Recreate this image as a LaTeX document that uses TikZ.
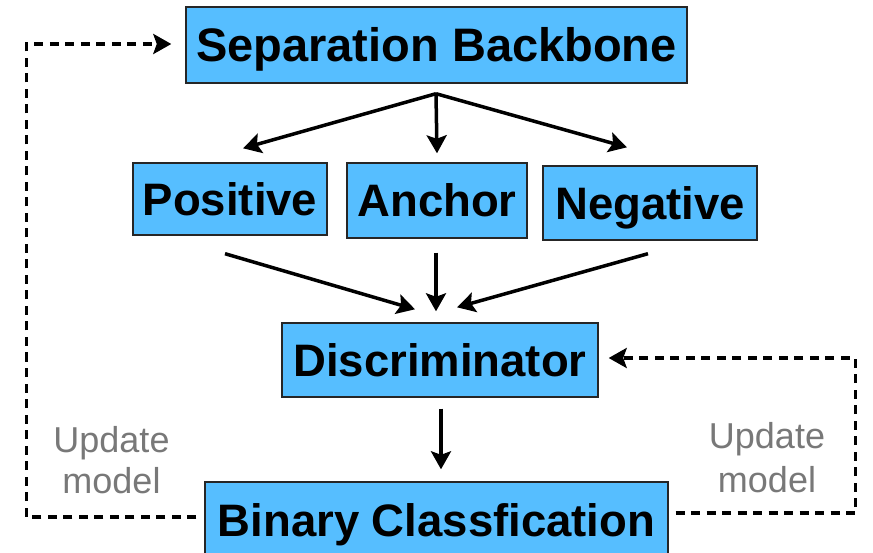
\documentclass[tikz,border=0pt]{standalone}
\usepackage{fontspec}
\setmainfont{Liberation Sans}
\usetikzlibrary{arrows.meta}
\definecolor{boxblue}{RGB}{86,190,255}
\definecolor{lblgray}{RGB}{120,120,120}
\begin{document}
\begin{tikzpicture}[x=1pt,y=-1pt,
  box/.style={draw=black!85, line width=1.4pt, fill=boxblue, inner sep=0pt,
    text height=33pt, text depth=0pt,
    font=\fontsize{45.5}{50}\selectfont\bfseries},
  tip/.style={-{Stealth[length=18pt,width=20pt,inset=3.5pt]}},
  arr/.style={tip, line width=3.5pt},
  dsh/.style={tip, line width=3.5pt, dash pattern=on 9pt off 6.5pt},
  lbl/.style={text=lblgray, font=\fontsize{36}{40}\selectfont, inner sep=0pt, anchor=base}]
\useasboundingbox (0,0) rectangle (873,553);

% boxes
\node[box, minimum width=501pt, minimum height=76pt, font=\fontsize{47}{52}\selectfont\bfseries] (sep) at (436.5,45) {Separation Backbone};
\node[box, minimum width=194pt, minimum height=72pt] (pos) at (230,199) {Positive};
\node[box, minimum width=180pt, minimum height=75pt] (anc) at (437,200.5) {Anchor};
\node[box, minimum width=214pt, minimum height=74pt] (neg) at (650,203) {Negative};
\node[box, minimum width=316pt, minimum height=74pt] (disc) at (440,360) {Discriminator};
\node[box, minimum width=463pt, minimum height=75pt] (bin) at (436.5,519.5) {Binary Classfication};

% connector points
\coordinate (fork) at ([shift={(-0.5,10)}]sep.south);
\coordinate (posin) at ([shift={(13,-14)}]pos.north);
\coordinate (ancin) at ([shift={(0,-9)}]anc.north);
\coordinate (negin) at ([shift={(-23,-18)}]neg.north);
\coordinate (posout) at ([shift={(-5,18)}]pos.south);
\coordinate (ancout) at ([shift={(-1,14)}]anc.south);
\coordinate (negout) at ([shift={(-2,13)}]neg.south);
\coordinate (discinL) at ([shift={(-25,-13)}]disc.north);
\coordinate (discinM) at ([shift={(-4,-11)}]disc.north);
\coordinate (discinR) at ([shift={(17,-15)}]disc.north);
\coordinate (discout) at ([shift={(1,11)}]disc.south);
\coordinate (binin) at ([shift={(4.5,-12)}]bin.north);
\coordinate (binL) at ([shift={(-8,-2.5)}]bin.west);
\coordinate (binR) at ([shift={(7,-6.5)}]bin.east);
\coordinate (sepin) at ([shift={(-14,-1)}]sep.west);
\coordinate (discinE) at ([shift={(10,-2)}]disc.east);

% solid arrows
\draw[arr] (fork) -- (posin);
\draw[arr] (fork) -- (ancin);
\draw[arr] (fork) -- (negin);
\draw[arr] (posout) -- (discinL);
\draw[arr] (ancout) -- (discinM);
\draw[arr] (negout) -- (discinR);
\draw[arr] (discout) -- (binin);

% dashed feedback
\draw[dsh] (binL) -- ++(-170,0) |- (sepin);
\draw[dsh] (binR) -- ++(180,0) |- (discinE);

% labels
\node[lbl] (lu) at (111.5,452) {Update};
\node[lbl] (lm) at (111.5,493) {model};
\node[lbl] (ru) at (767,448) {Update};
\node[lbl] (rm) at (767,492) {model};
\end{tikzpicture}
\end{document}
